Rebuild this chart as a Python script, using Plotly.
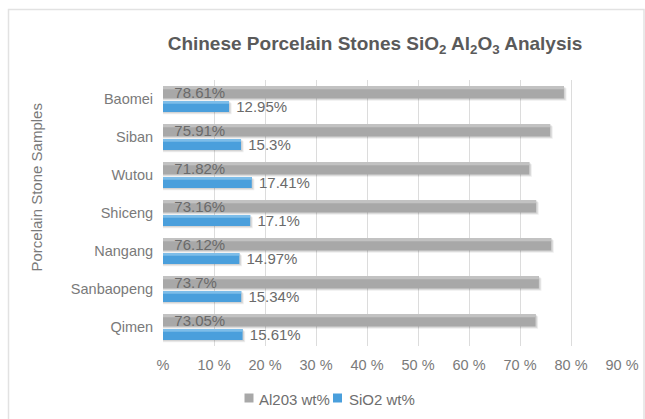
import plotly.graph_objects as go

# Porcelain stone samples, listed top to bottom
samples = ["Baomei", "Siban", "Wutou", "Shiceng", "Nangang", "Sanbaopeng", "Qimen"]
al2o3 = [78.61, 75.91, 71.82, 73.16, 76.12, 73.7, 73.05]
sio2 = [12.95, 15.3, 17.41, 17.1, 14.97, 15.34, 15.61]
series_names = ["Al203 wt%", "SiO2 wt%"]

x_ticks = [0, 10, 20, 30, 40, 50, 60, 70, 80, 90]
x_tick_labels = ["%", "10 %", "20 %", "30 %", "40 %", "50 %", "60 %", "70 %", "80 %", "90 %"]

FONT = "Liberation Sans, Arial, Helvetica, sans-serif"
GRAY = "#a8a8a8"
GRAY_HI = "#c2c2c2"
BLUE = "#4a9fdc"
BLUE_HI = "#7dbde9"
TEXT = "#6a6a6a"

# plot area in pixels
W, H = 645, 419
L, R, T, B = 163, 622, 80, 346
PW, PH = R - L, B - T

# bar geometry along the category axis (in category units)
G_OFF, G_W = -0.342, 0.33
B_OFF, B_W = 0.05, 0.29


def pct(vals):
    return [f"{v}%" for v in vals]


def px_x(x):
    return (x - L) / PW


def px_y(y):
    return (B - y) / PH


fig = go.Figure()

# soft drop shadows under the bars
for vals, off, w in ((al2o3, G_OFF, G_W), (sio2, B_OFF, B_W)):
    for dx, dy, a in ((0.5, 0.06, 0.07), (0.3, 0.035, 0.10)):
        fig.add_trace(go.Bar(
            y=samples, x=[v + dx for v in vals], orientation="h",
            offset=off + dy, width=w, marker=dict(color=f"rgba(0,0,0,{a})", line_width=0),
            hoverinfo="skip"))

# bar bodies
fig.add_trace(go.Bar(
    y=samples, x=al2o3, orientation="h", name=series_names[0],
    offset=G_OFF, width=G_W, marker=dict(color=GRAY, line_width=0)))
fig.add_trace(go.Bar(
    y=samples, x=sio2, orientation="h", name=series_names[1],
    offset=B_OFF, width=B_W, marker=dict(color=BLUE, line_width=0)))

# light top edge on each bar
fig.add_trace(go.Bar(
    y=samples, x=al2o3, orientation="h", offset=G_OFF, width=0.085,
    marker=dict(color=GRAY_HI, line_width=0), hoverinfo="skip"))
fig.add_trace(go.Bar(
    y=samples, x=sio2, orientation="h", offset=B_OFF, width=0.075,
    marker=dict(color=BLUE_HI, line_width=0), hoverinfo="skip"))

# value labels
fig.add_trace(go.Bar(
    y=samples, x=al2o3, orientation="h", offset=G_OFF, width=G_W,
    marker=dict(color="rgba(0,0,0,0)", line_width=0),
    text=pct(al2o3), texttemplate="\u00a0\u00a0%{text}", textposition="inside",
    insidetextanchor="start", textangle=0, constraintext="none",
    textfont=dict(family=FONT, size=15, color=TEXT), hoverinfo="skip"))
fig.add_trace(go.Bar(
    y=samples, x=sio2, orientation="h", offset=B_OFF, width=B_W,
    marker=dict(color="rgba(0,0,0,0)", line_width=0),
    text=pct(sio2), texttemplate="\u00a0%{text}", textposition="outside",
    textangle=0, constraintext="none", cliponaxis=False,
    textfont=dict(family=FONT, size=15, color=TEXT), hoverinfo="skip"))

# legend: small swatches followed by the series names
legend_items = [(series_names[0], GRAY, 249, 257), (series_names[1], BLUE, 337.5, 347)]
shapes = [dict(
    type="rect", xref="paper", yref="paper",
    x0=px_x(8.5), x1=px_x(644), y0=px_y(430), y1=px_y(9.5),
    line=dict(color="#e2e2e2", width=1.5), fillcolor="rgba(0,0,0,0)", layer="below")]
annotations = [dict(
    text="Porcelain Stone Samples", textangle=-90, showarrow=False,
    xref="paper", yref="paper", x=px_x(36), y=px_y(187.5),
    xanchor="center", yanchor="middle",
    font=dict(family=FONT, size=15, color="#7a7a7a"))]
for name, color, cx, tx in legend_items:
    shapes.append(dict(
        type="rect", xref="paper", yref="paper",
        x0=px_x(cx - 4.5), x1=px_x(cx + 4.5), y0=px_y(402.5), y1=px_y(393.5),
        line_width=0, fillcolor=color))
    annotations.append(dict(
        text=name, showarrow=False, xref="paper", yref="paper",
        x=px_x(tx), y=px_y(399), xanchor="left", yanchor="middle",
        font=dict(family=FONT, size=15, color="#6e6e6e")))

fig.update_layout(
    width=W, height=H,
    margin=dict(l=L, r=W - R, t=T, b=H - B),
    paper_bgcolor="white", plot_bgcolor="white",
    barmode="overlay", showlegend=False,
    font=dict(family=FONT, color="#7a7a7a"),
    title=dict(
        text="Chinese Porcelain Stones SiO<sub>2</sub> Al<sub>2</sub>O<sub>3</sub> Analysis",
        x=375 / W, xanchor="center", xref="container",
        y=1 - 43 / H, yanchor="middle", yref="container",
        font=dict(family=FONT, size=19, color="#5a5a5a", weight="bold")),
    xaxis=dict(
        range=[0, 90], tickvals=x_ticks, ticktext=x_tick_labels, automargin=False,
        showgrid=True, gridcolor="#dcdcdc", gridwidth=1, zeroline=False,
        showline=False, ticks="outside", ticklen=6, tickcolor="rgba(0,0,0,0)",
        tickfont=dict(family=FONT, size=14.5, color="#7a7a7a"), fixedrange=True),
    yaxis=dict(
        type="category", autorange="reversed", showgrid=False, zeroline=False,
        automargin=False, ticks="outside", ticklen=6, tickcolor="rgba(0,0,0,0)",
        tickfont=dict(family=FONT, size=14.5, color="#7a7a7a")),
    shapes=shapes,
    annotations=annotations,
)

fig.write_html("out.html")
